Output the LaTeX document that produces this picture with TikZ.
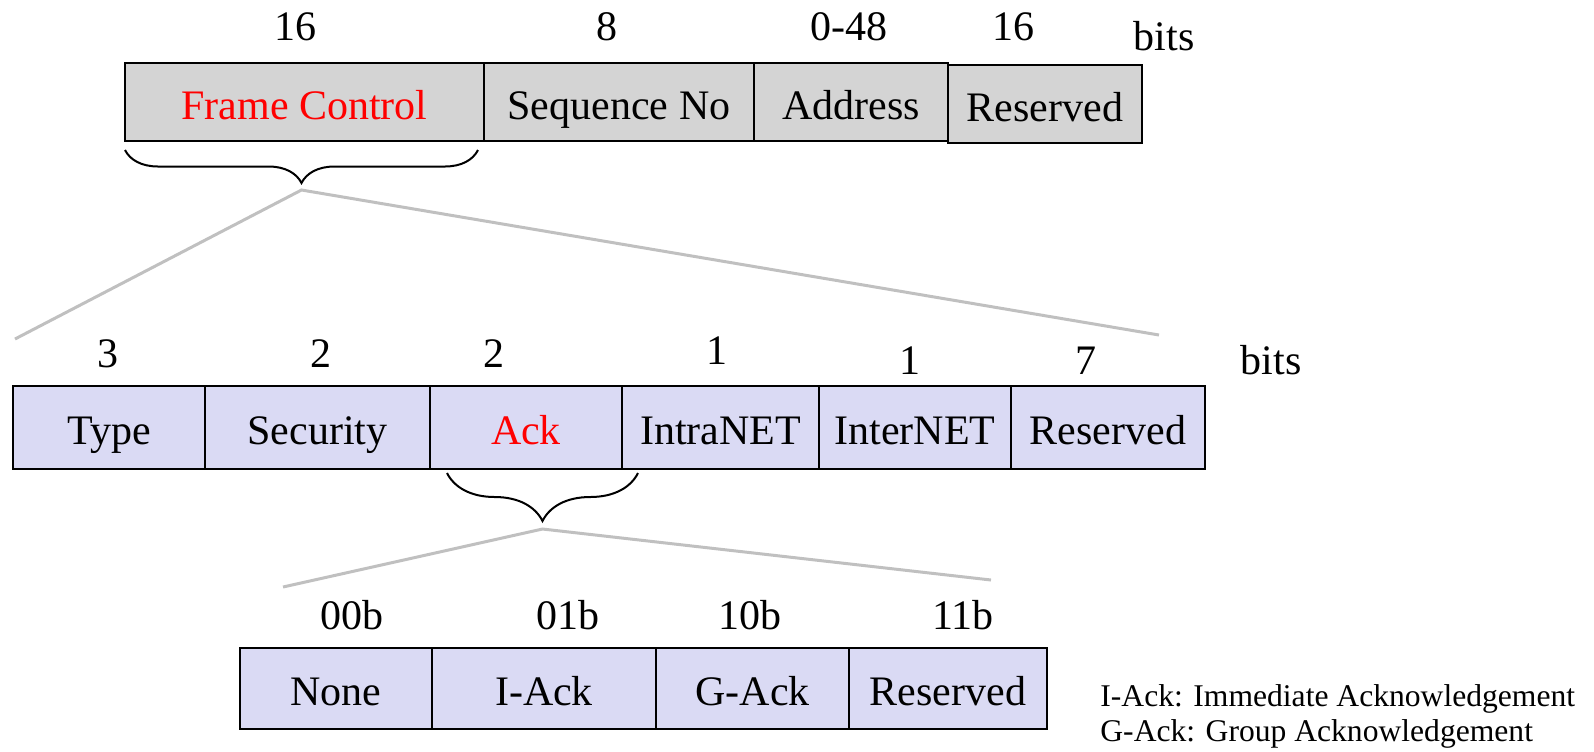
\documentclass[tikz,border=0pt]{standalone}
\usepackage{fontspec}
\setmainfont{Liberation Serif}
\usetikzlibrary{positioning,decorations.pathreplacing}

\definecolor{hdrgray}{RGB}{212,212,212}
\definecolor{fclilac}{RGB}{218,218,244}
\definecolor{zoomgray}{RGB}{192,192,192}

\tikzset{
    field/.style={draw, line width=1pt, inner sep=0pt, outer sep=0pt,
        text height=17pt, text depth=0pt,
        font=\fontsize{21}{25}\selectfont},
    hdrfield/.style={field, fill=hdrgray, minimum height=39pt},
    fcfield/.style={field, fill=fclilac, minimum height=41.5pt},
    ackfield/.style={field, fill=fclilac, minimum height=40.5pt},
    bitlabel/.style={inner sep=0pt, font=\fontsize{21}{25}\selectfont},
    legend/.style={inner sep=0pt, anchor=west, font=\fontsize{15.8}{19}\selectfont},
    curly/.style={decorate, line width=1pt,
        decoration={brace, mirror, amplitude=#1}},
    zoomline/.style={draw=zoomgray, line width=1.5pt}
}

\begin{document}
\begin{tikzpicture}[x=0.5pt, y=-0.5pt]
    \useasboundingbox (0,0) rectangle (1594,751);

    % MAC header
    \node[hdrfield, minimum width=179.5pt, text=red] (fc) at (304.5,102) {Frame Control};
    \node[hdrfield, minimum width=135pt, right=0pt of fc] (seqno) {Sequence No};
    \node[hdrfield, minimum width=97pt, right=0pt of seqno] (addr) {Address};
    \node[hdrfield, minimum width=97pt, right=0pt of addr, yshift=-1pt] (hres) {Reserved};

    \node[bitlabel] (bfc) at (295,27) {16};
    \node[bitlabel] (bseq) at (607,27) {8};
    \node[bitlabel] (baddr) at (849,27) {0-48};
    \node[bitlabel] (bhres) at (1013,27) {16};
    \node[bitlabel] (bits1) at (1164,36) {bits};

    % Frame Control fields
    \node[fcfield, minimum width=96pt] (type) at (109,427.5) {Type};
    \node[fcfield, minimum width=112.5pt, right=0pt of type] (sec) {Security};
    \node[fcfield, minimum width=96pt, right=0pt of sec, text=red] (ack) {Ack};
    \node[fcfield, minimum width=98.5pt, right=0pt of ack] (intra) {IntraNET};
    \node[fcfield, minimum width=96pt, right=0pt of intra] (inter) {InterNET};
    \node[fcfield, minimum width=97pt, right=0pt of inter] (fres) {Reserved};

    \node[bitlabel] (btype) at (108,354) {3};
    \node[bitlabel] (bsec) at (321,354) {2};
    \node[bitlabel] (back) at (494,354) {2};
    \node[bitlabel] (bintra) at (717,351) {1};
    \node[bitlabel] (binter) at (910,361) {1};
    \node[bitlabel] (bfres) at (1086,361) {7};
    \node[bitlabel] (bits2) at (1271,360) {bits};

    % Ack values
    \node[ackfield, minimum width=96pt] (none) at (336,688.5) {None};
    \node[ackfield, minimum width=112pt, right=0pt of none] (iack) {I-Ack};
    \node[ackfield, minimum width=96.5pt, right=0pt of iack] (gack) {G-Ack};
    \node[ackfield, minimum width=99pt, right=0pt of gack] (ares) {Reserved};

    \node[bitlabel] (vnone) at (352,615) {00b};
    \node[bitlabel] (viack) at (568,615) {01b};
    \node[bitlabel] (vgack) at (750,615) {10b};
    \node[bitlabel] (vares) at (963,615) {11b};

    \node[legend] (leg1) at (1100,699) {I-Ack: Immediate Acknowledgement};
    \node[legend] (leg2) at (1100,734) {G-Ack: Group Acknowledgement};

    % braces and zoom lines
    \coordinate (fcL) at (125,150);
    \coordinate (fcR) at (478,150);
    \coordinate (fctip) at (301.5,190);
    \coordinate (fcout1) at (15,339);
    \coordinate (fcout2) at (1159,335);
    \draw[curly=16.5pt] (fcL) -- (fcR);
    \draw[zoomline] (fcout1) -- (fctip) -- (fcout2);

    \coordinate (ackL) at (447,473);
    \coordinate (ackR) at (638,473);
    \coordinate (acktip) at (542.5,529);
    \coordinate (ackout1) at (283,587);
    \coordinate (ackout2) at (991,580);
    \draw[curly=24pt] (ackL) -- (ackR);
    \draw[zoomline] (ackout1) -- (acktip) -- (ackout2);

\end{tikzpicture}
\end{document}
